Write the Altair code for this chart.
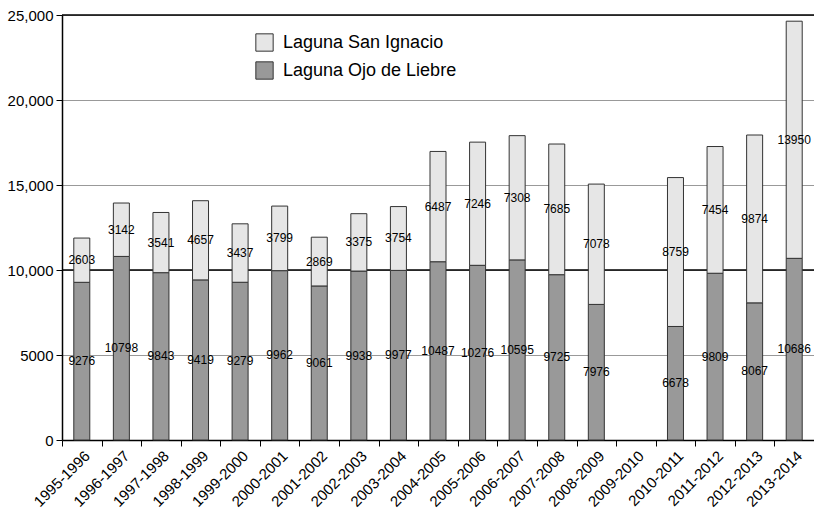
import altair as alt
import pandas as pd

seasons = ["1995-1996", "1996-1997", "1997-1998", "1998-1999", "1999-2000",
           "2000-2001", "2001-2002", "2002-2003", "2003-2004", "2004-2005",
           "2005-2006", "2006-2007", "2007-2008", "2008-2009", "2009-2010",
           "2010-2011", "2011-2012", "2012-2013", "2013-2014"]
ojo = [9276, 10798, 9843, 9419, 9279, 9962, 9061, 9938, 9977, 10487,
       10276, 10595, 9725, 7976, None, 6678, 9809, 8067, 10686]
san = [2603, 3142, 3541, 4657, 3437, 3799, 2869, 3375, 3754, 6487,
       7246, 7308, 7685, 7078, None, 8759, 7454, 9874, 13950]
series_names = ["Laguna San Ignacio", "Laguna Ojo de Liebre"]
series_colors = ["#e6e6e6", "#999999"]
y_ticks = [0, 5000, 10000, 15000, 20000, 25000]
dark_lines = [10000, 25000]

rows = []
for s, o, si in zip(seasons, ojo, san):
    if o is not None:
        rows.append({"season": s, "series": series_names[1], "value": o, "ord": 0})
    if si is not None:
        rows.append({"season": s, "series": series_names[0], "value": si, "ord": 1})
df = pd.DataFrame(rows)
lines_df = pd.DataFrame({"y": dark_lines})

xscale = alt.Scale(domain=seasons, paddingInner=0, paddingOuter=0)
yscale = alt.Scale(domain=[0, 25000])

x_enc = alt.X("season:N", scale=xscale, title=None,
              axis=alt.Axis(labelAngle=-45, labelFontSize=15, labelColor="black",
                            tickBand="extent", tickSize=6, tickColor="black",
                            domainColor="black", domainWidth=1.5, grid=False,
                            labelPadding=2))

bars = alt.Chart(df).mark_bar(size=16, stroke="#333333", strokeWidth=1).encode(
    x=x_enc,
    y=alt.Y("value:Q", stack="zero", scale=yscale, title=None,
            axis=alt.Axis(values=y_ticks, grid=True, gridColor="#999999",
                          gridWidth=1, domainColor="black", domainWidth=1.5,
                          tickColor="black", tickSize=6, labelFontSize=15,
                          labelColor="black", labelPadding=3,
                          labelExpr="datum.value >= 10000 ? format(datum.value, ',') : format(datum.value, 'd')")),
    color=alt.Color("series:N", scale=alt.Scale(domain=series_names, range=series_colors),
                    legend=alt.Legend(title=None, orient="none", legendX=193, legendY=18,
                                      symbolType="square", symbolSize=300,
                                      symbolStrokeColor="#333333", symbolStrokeWidth=1,
                                      labelFontSize=18, labelColor="black", labelLimit=0,
                                      rowPadding=5, labelOffset=9)),
    order=alt.Order("ord:Q"),
)

labels = alt.Chart(df).transform_stack(
    stack="value", groupby=["season"], as_=["v0", "v1"],
    sort=[alt.SortField("ord", order="ascending")]
).transform_calculate(
    mid="(datum.v0 + datum.v1) / 2"
).mark_text(fontSize=12, color="black", baseline="middle").encode(
    x=alt.X("season:N", scale=xscale),
    y=alt.Y("mid:Q", scale=yscale),
    text=alt.Text("value:Q", format="d"),
)

rules = alt.Chart(lines_df).mark_rule(color="black", strokeWidth=1.3).encode(
    y=alt.Y("y:Q", scale=yscale)
)

chart = alt.layer(rules, bars, labels).properties(
    width=752, height=425,
    autosize=alt.AutoSizeParams(type="none"),
    padding={"left": 62, "top": 15, "right": 0, "bottom": 72},
).configure(font="Liberation Sans").configure_view(stroke=None)

chart.save("out.html", embed_options={"renderer": "svg", "actions": False})
